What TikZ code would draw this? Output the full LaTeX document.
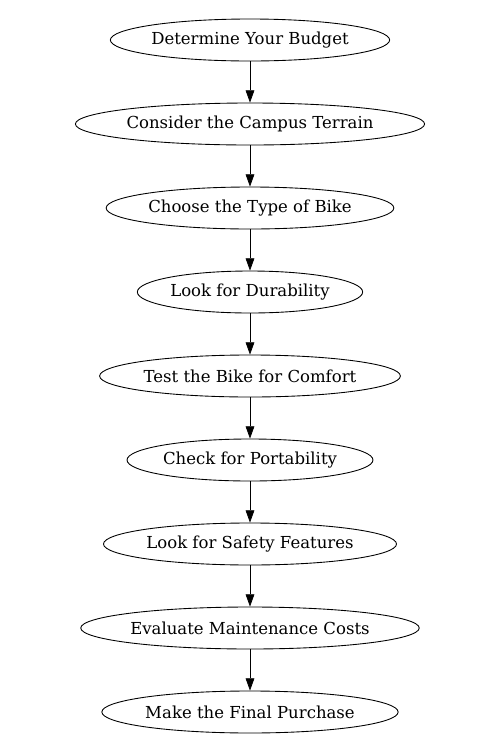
\documentclass[tikz,border=0pt]{standalone}
\usepackage{fontspec}
\setmainfont{DejaVu Serif}
\usetikzlibrary{shapes.geometric, positioning, arrows.meta}

\begin{document}
\begin{tikzpicture}[node distance=1.68cm, font=\fontsize{9.4}{11}\selectfont,
    stepnode/.style={draw, ellipse, line width=0.5pt, minimum height=0.84cm, inner xsep=0pt, inner ysep=1pt},
    >={Triangle[length=7pt, width=5pt]}]
    \useasboundingbox (0,0) rectangle (10,-15);
    % Nodes
    \node (budget) [stepnode] at (5,-0.8) {Determine Your Budget};
    \node (terrain) [stepnode, below of=budget] {Consider the Campus Terrain};
    \node (type) [stepnode, below of=terrain] {Choose the Type of Bike};
    \node (durability) [stepnode, below of=type] {Look for Durability};
    \node (comfort) [stepnode, below of=durability] {Test the Bike for Comfort};
    \node (portability) [stepnode, below of=comfort] {Check for Portability};
    \node (safety) [stepnode, below of=portability] {Look for Safety Features};
    \node (maintenance) [stepnode, below of=safety] {Evaluate Maintenance Costs};
    \node (purchase) [stepnode, below of=maintenance] {Make the Final Purchase};

    % Arrows
    \draw [->] (budget) -- (terrain);
    \draw [->] (terrain) -- (type);
    \draw [->] (type) -- (durability);
    \draw [->] (durability) -- (comfort);
    \draw [->] (comfort) -- (portability);
    \draw [->] (portability) -- (safety);
    \draw [->] (safety) -- (maintenance);
    \draw [->] (maintenance) -- (purchase);
\end{tikzpicture}
\end{document}
